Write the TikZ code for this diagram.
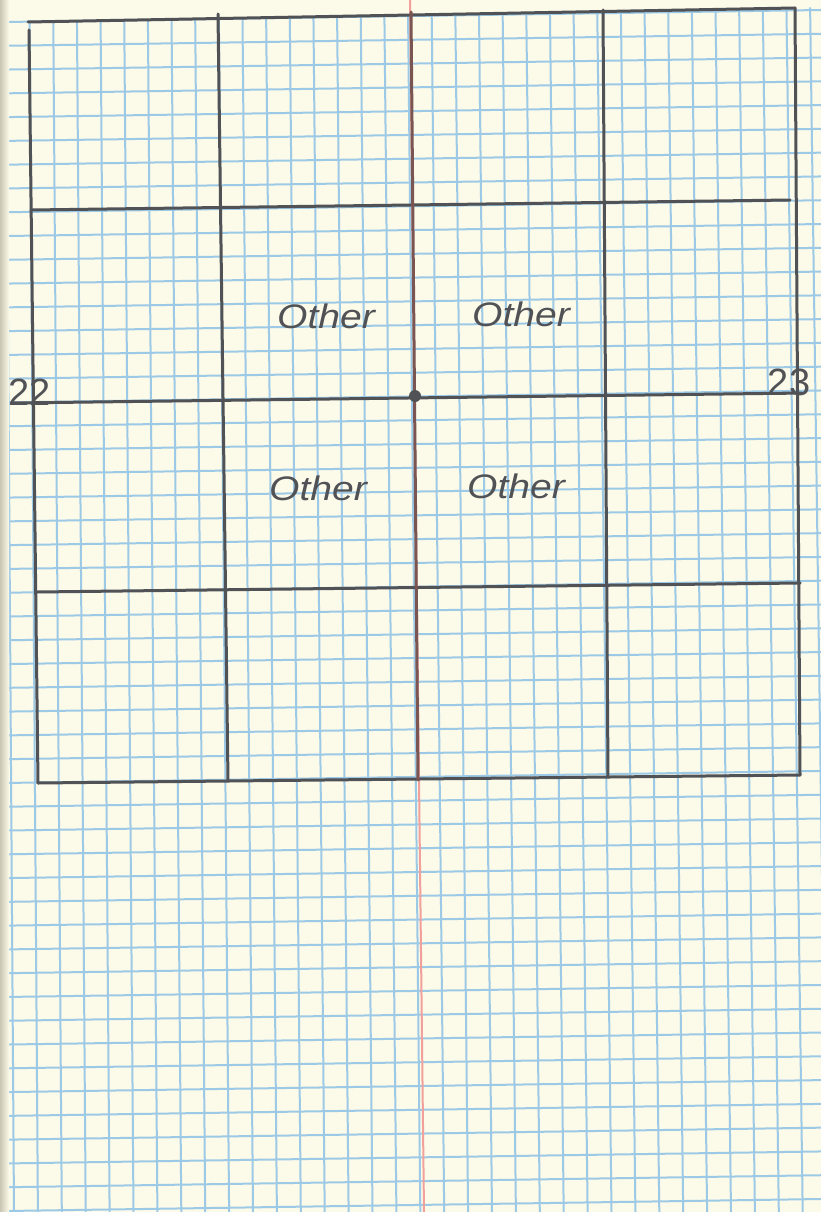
\documentclass[tikz,border=0pt]{standalone}
\usepackage{fontspec}
\newfontfamily\hand{Liberation Sans}
\definecolor{paper}{HTML}{FCFAE8}
\definecolor{gridblue}{HTML}{9CC9E6}
\definecolor{pencil}{HTML}{505256}
\definecolor{marginred}{HTML}{F2A09C}
\definecolor{pencilred}{HTML}{7A5552}
\definecolor{binding}{HTML}{C9C6B4}
\tikzset{
  gridline/.style={gridblue, line width=2pt},
  pencilline/.style={pencil, line width=3pt, line cap=round},
  handtext/.style={pencil, font=\hand\itshape\fontsize{34}{34}\selectfont, inner sep=0pt, xscale=1.15},
  numtext/.style={pencil, font=\hand\fontsize{38}{38}\selectfont, inner sep=0pt}
}
\begin{document}
\begin{tikzpicture}[x=1pt,y=-1pt]
\fill[paper] (0,0) rectangle (821,1212);
\useasboundingbox (0,0) rectangle (821,1212);
% blue grid of the paper
\foreach \k in {0,...,34} {
  \pgfmathsetmacro{\xt}{6+23.65*\k}
  \pgfmathsetmacro{\yt}{22-0.018*\xt}
  \draw[gridline] (\xt,\yt) -- ({14+23.9*\k},1212);
}
\foreach \k in {0,...,50} {
  \draw[gridline] (6,{22+23.78*\k}) -- (821,{10+23.78*\k});
}
% red margin line
\coordinate (mtop) at (410,0);
\coordinate (mbot) at (424,1212);
\draw[marginred, line width=2pt] (mtop) -- (mbot);
% binding shadow
\shade[left color=binding, right color=paper] (0,0) rectangle (9,1212);
% pencil frame corners
\coordinate (tl) at (28,22);
\coordinate (tr) at (795,8);
\coordinate (bl) at (38,783);
\coordinate (br) at (800,775);
\coordinate (ltop) at (29,30);
% pencil grid
\draw[pencilline] (tl) -- (tr);
\draw[pencilline] (ltop) -- (bl);
\draw[pencilline] (tr) -- (br);
\draw[pencilline] (bl) -- (br);
\coordinate (h1l) at (31,210); \coordinate (h1r) at (790,200);
\coordinate (h2l) at (14,403); \coordinate (h2r) at (802,393);
\coordinate (h3l) at (37,592); \coordinate (h3r) at (800,583);
\draw[pencilline] (h1l) -- (h1r);
\draw[pencilline] (h2l) -- (h2r);
\draw[pencilline] (h3l) -- (h3r);
\coordinate (v1t) at (218,14); \coordinate (v1b) at (228,781);
\coordinate (v2t) at (411,12); \coordinate (v2b) at (418,780);
\coordinate (v3t) at (603,10); \coordinate (v3b) at (608,777);
\draw[pencilline] (v1t) -- (v1b);
\draw[pencilline, pencilred] (v2t) -- (v2b);
\draw[pencilline] (v3t) -- (v3b);
% centre dot
\coordinate (centre) at (415,396);
\fill[pencil] (centre) circle (6);
% labels
\node[handtext] (o1) at (326,316) {Other};
\node[handtext] (o2) at (521,314) {Other};
\node[handtext] (o3) at (318,488) {Other};
\node[handtext] (o4) at (516,486) {Other};
\node[numtext] (n22) at (30,392) {22};
\node[numtext] (n23) at (789,382) {23};
\end{tikzpicture}
\end{document}
